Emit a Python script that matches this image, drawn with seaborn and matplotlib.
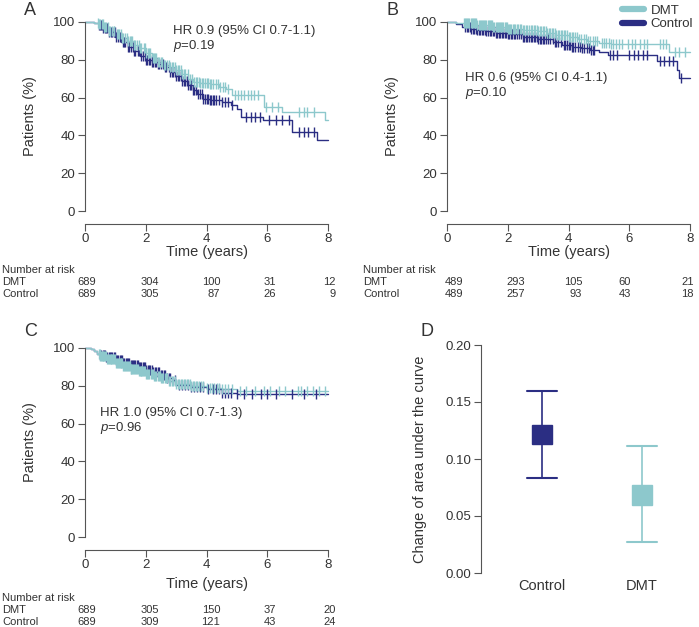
import numpy as np
import matplotlib
matplotlib.use("Agg")
import matplotlib.pyplot as plt
import matplotlib.transforms as mtransforms
from matplotlib.lines import Line2D
import seaborn as sns

# ---------------- data ----------------
# Panel A
A_dmt_t = [0, 0.3, 0.45, 0.6, 0.8, 1.0, 1.2, 1.4, 1.6, 1.8, 2.0, 2.2, 2.4, 2.6, 2.8, 3.0, 3.2, 3.4, 3.55, 3.8, 4.1, 4.4, 4.65, 4.85, 5.88, 6.47, 7.9, 8.0]
A_dmt_s = [100, 99.5, 99, 97.5, 95.5, 93.5, 91.5, 90, 88, 86, 83.5, 81, 79, 77.5, 76, 74.5, 72.5, 70, 68.5, 67.5, 67, 65.5, 64.5, 61.5, 55.2, 52.5, 48, 48]
A_ctl_t = [0, 0.3, 0.45, 0.6, 0.8, 1.0, 1.2, 1.4, 1.6, 1.8, 2.0, 2.2, 2.4, 2.6, 2.8, 3.0, 3.2, 3.4, 3.55, 3.7, 3.9, 4.1, 4.5, 4.8, 5.0, 5.15, 5.85, 6.8, 7.65, 8.0]
A_ctl_s = [100, 99.5, 98.5, 97, 94.5, 92, 89.5, 87, 84.5, 82, 80, 79, 78, 76, 73.5, 71.5, 69, 66.5, 64, 62, 59.5, 58.5, 57.5, 56, 54, 50, 48, 42, 37.5, 37.5]
A_dmt_cens = [0.42, 0.47, 0.5, 0.55, 0.59, 0.62, 0.67, 0.7, 0.76, 0.8, 0.83, 0.9, 0.94, 0.97, 1.05, 1.09, 1.12, 1.18, 1.22, 1.25, 1.33, 1.37, 1.4, 1.47, 1.51, 1.55, 1.62, 1.66, 1.7, 1.78, 1.82, 1.85, 1.93, 1.97, 2.0, 2.08, 2.12, 2.15, 2.23, 2.27, 2.3, 2.35, 2.4, 2.45, 2.5, 2.55, 2.6, 2.65, 2.7, 2.75, 2.8, 2.85, 2.9, 2.95, 3.0, 3.05, 3.1, 3.15, 3.2, 3.25, 3.3, 3.38, 3.45, 3.52, 3.6, 3.65, 3.7, 3.75, 3.8, 3.85, 3.9, 3.95, 4.0, 4.05, 4.1, 4.15, 4.2, 4.3, 4.38, 4.45, 4.55, 4.62, 4.7, 4.95, 5.05, 5.15, 5.25, 5.35, 5.45, 5.55, 5.7, 5.95, 6.15, 6.35, 7.05, 7.2, 7.3, 7.55]
A_ctl_cens = [0.45, 0.5, 0.52, 0.57, 0.6, 0.66, 0.7, 0.74, 0.8, 0.85, 0.88, 0.95, 0.99, 1.02, 1.1, 1.14, 1.17, 1.25, 1.29, 1.32, 1.4, 1.45, 1.5, 1.58, 1.62, 1.66, 1.75, 1.79, 1.83, 1.92, 1.96, 2.0, 2.05, 2.1, 2.15, 2.2, 2.25, 2.3, 2.35, 2.4, 2.45, 2.5, 2.56, 2.62, 2.68, 2.75, 2.8, 2.85, 2.9, 2.95, 3.0, 3.05, 3.1, 3.15, 3.2, 3.25, 3.3, 3.35, 3.4, 3.45, 3.5, 3.55, 3.6, 3.65, 3.72, 3.8, 3.85, 3.9, 3.95, 4.0, 4.05, 4.1, 4.15, 4.2, 4.25, 4.3, 4.4, 4.5, 4.6, 4.7, 4.85, 5.3, 5.45, 5.6, 5.75, 6.05, 6.3, 6.5, 6.7, 7.05, 7.2, 7.35, 7.55]
A_dmt_risk = [689, 304, 100, 31, 12]
A_ctl_risk = [689, 305, 87, 26, 9]

# Panel B
B_dmt_t = [0, 0.3, 0.5, 1.0, 1.5, 2.0, 2.5, 3.0, 3.3, 3.6, 4.0, 4.3, 4.6, 5.0, 5.4, 7.3, 8.0]
B_dmt_s = [100, 99.5, 99.3, 98.2, 97.3, 96.5, 95.8, 95, 94, 93, 92, 91, 90, 88.8, 88.4, 84.3, 84.3]
B_ctl_t = [0, 0.3, 0.5, 0.8, 1.0, 1.3, 1.6, 2.0, 2.5, 3.0, 3.5, 3.8, 4.1, 4.4, 4.7, 5.0, 5.3, 6.9, 7.57, 7.65, 8.0]
B_ctl_s = [100, 99, 97.5, 96.5, 96, 95, 94.3, 93.4, 92, 91, 89.5, 88, 87, 86, 85, 84.3, 82.5, 79.5, 74.6, 70.5, 70.5]
B_dmt_cens = [0.55, 0.6, 0.62, 0.66, 0.7, 0.74, 0.78, 0.82, 0.85, 0.88, 0.92, 0.96, 1.0, 1.04, 1.08, 1.12, 1.15, 1.19, 1.22, 1.26, 1.3, 1.34, 1.38, 1.42, 1.45, 1.49, 1.52, 1.56, 1.6, 1.64, 1.68, 1.72, 1.75, 1.79, 1.82, 1.86, 1.9, 1.94, 1.98, 2.02, 2.05, 2.09, 2.12, 2.16, 2.2, 2.25, 2.3, 2.35, 2.4, 2.45, 2.5, 2.55, 2.6, 2.65, 2.7, 2.75, 2.8, 2.85, 2.9, 2.95, 3.0, 3.05, 3.1, 3.15, 3.2, 3.25, 3.3, 3.35, 3.4, 3.45, 3.5, 3.55, 3.6, 3.65, 3.7, 3.75, 3.8, 3.85, 3.9, 3.95, 4.0, 4.05, 4.1, 4.15, 4.2, 4.28, 4.35, 4.42, 4.5, 4.58, 4.65, 4.72, 4.8, 4.88, 4.95, 5.1, 5.18, 5.25, 5.33, 5.4, 5.48, 5.55, 5.65, 5.75, 5.95, 6.1, 6.2, 6.35, 6.5, 6.6, 7.0, 7.1, 7.2, 7.5, 7.65, 7.85]
B_ctl_cens = [0.6, 0.65, 0.7, 0.75, 0.8, 0.85, 0.9, 0.95, 1.0, 1.05, 1.1, 1.15, 1.2, 1.25, 1.3, 1.35, 1.4, 1.45, 1.5, 1.55, 1.6, 1.65, 1.7, 1.75, 1.8, 1.85, 1.9, 1.95, 2.0, 2.05, 2.1, 2.15, 2.2, 2.25, 2.3, 2.38, 2.45, 2.5, 2.55, 2.6, 2.65, 2.7, 2.75, 2.8, 2.85, 2.9, 2.95, 3.0, 3.05, 3.1, 3.15, 3.2, 3.25, 3.32, 3.4, 3.48, 3.55, 3.6, 3.65, 3.75, 3.85, 3.9, 3.95, 4.0, 4.05, 4.1, 4.15, 4.22, 4.3, 4.38, 4.45, 4.52, 4.6, 4.68, 4.75, 4.8, 4.85, 5.35, 5.45, 5.6, 6.0, 6.15, 6.3, 6.45, 6.6, 7.0, 7.15, 7.3, 7.45, 7.7]
B_dmt_risk = [489, 293, 105, 60, 21]
B_ctl_risk = [489, 257, 93, 43, 18]

# Panel C
C_dmt_t = [0, 0.2, 0.3, 0.4, 0.5, 0.7, 1.0, 1.25, 1.5, 1.75, 2.0, 2.25, 2.5, 2.75, 3.0, 3.5, 4.0, 4.5, 5.0, 6.0, 8.0]
C_dmt_s = [100, 99.5, 98.4, 97, 95.6, 94, 91.8, 90.3, 89, 87.8, 86.5, 85.2, 83.9, 82.5, 81.2, 80, 79, 78.2, 77.4, 77, 77]
C_ctl_t = [0, 0.2, 0.3, 0.4, 0.5, 0.7, 1.0, 1.25, 1.5, 1.75, 2.0, 2.25, 2.5, 2.7, 2.9, 3.0, 3.5, 4.0, 4.5, 5.0, 8.0]
C_ctl_s = [100, 99.5, 98.5, 97, 96.3, 95, 93.5, 92.3, 91, 89.8, 88.6, 87.2, 85.6, 84.2, 83, 80.5, 79.5, 78.2, 76.3, 75.6, 75.6]
C_dmt_cens = [0.45, 0.48, 0.5, 0.53, 0.55, 0.58, 0.6, 0.63, 0.66, 0.69, 0.72, 0.75, 0.78, 0.81, 0.84, 0.87, 0.9, 0.93, 0.96, 0.99, 1.02, 1.05, 1.08, 1.11, 1.14, 1.17, 1.2, 1.23, 1.26, 1.29, 1.32, 1.35, 1.38, 1.41, 1.44, 1.47, 1.5, 1.53, 1.56, 1.59, 1.62, 1.65, 1.68, 1.71, 1.74, 1.77, 1.8, 1.83, 1.86, 1.89, 1.92, 1.95, 1.98, 2.02, 2.05, 2.09, 2.12, 2.16, 2.2, 2.24, 2.28, 2.32, 2.35, 2.39, 2.43, 2.47, 2.5, 2.54, 2.58, 2.62, 2.66, 2.7, 2.75, 2.8, 2.85, 2.9, 2.95, 3.0, 3.05, 3.1, 3.15, 3.2, 3.25, 3.3, 3.35, 3.4, 3.45, 3.5, 3.55, 3.6, 3.65, 3.7, 3.75, 3.82, 3.9, 4.0, 4.1, 4.18, 4.25, 4.35, 4.42, 4.5, 4.6, 4.7, 4.85, 5.1, 5.3, 5.6, 5.9, 6.1, 6.4, 6.6, 7.0, 7.1, 7.3, 7.5, 7.7, 7.9]
C_ctl_cens = [0.5, 0.54, 0.58, 0.62, 0.66, 0.7, 0.74, 0.78, 0.82, 0.86, 0.9, 0.94, 0.98, 1.02, 1.06, 1.1, 1.14, 1.18, 1.22, 1.26, 1.3, 1.34, 1.38, 1.42, 1.46, 1.5, 1.54, 1.58, 1.62, 1.66, 1.7, 1.74, 1.78, 1.82, 1.86, 1.9, 1.94, 1.98, 2.02, 2.06, 2.1, 2.15, 2.2, 2.25, 2.3, 2.35, 2.4, 2.45, 2.5, 2.55, 2.6, 2.65, 2.7, 2.75, 2.8, 2.95, 3.1, 3.2, 3.3, 3.4, 3.5, 3.6, 3.7, 3.8, 3.9, 4.05, 4.2, 4.3, 4.4, 4.5, 4.6, 4.7, 4.8, 5.0, 5.25, 5.5, 5.8, 6.0, 6.3, 6.8, 7.2, 7.6]
C_dmt_risk = [689, 305, 150, 37, 20]
C_ctl_risk = [689, 309, 121, 43, 24]

risk_times = [0, 2, 4, 6, 8]

# Panel D
D_groups = ["Control", "DMT"]
D_q1 = [0.113, 0.060]
D_q3 = [0.130, 0.077]
D_med = [0.1215, 0.0685]
D_lo = [0.083, 0.027]
D_hi = [0.160, 0.111]

# ---------------- style ----------------
DMT_C = "#8DC8CC"
CTL_C = "#2B2E83"
TXT = "#333333"
SPN = "#555555"

sns.set_style("ticks")
plt.rcParams["font.family"] = ["Liberation Sans", "DejaVu Sans"]
plt.rcParams["mathtext.fontset"] = "custom"
plt.rcParams["mathtext.rm"] = "Liberation Sans"
plt.rcParams["mathtext.it"] = "Liberation Sans:italic"
plt.rcParams["text.color"] = TXT
plt.rcParams["axes.labelcolor"] = TXT
plt.rcParams["xtick.color"] = SPN
plt.rcParams["ytick.color"] = SPN
plt.rcParams["xtick.labelcolor"] = TXT
plt.rcParams["ytick.labelcolor"] = TXT
plt.rcParams["axes.edgecolor"] = SPN

W, H = 699, 627
fig = plt.figure(figsize=(W / 100, H / 100), dpi=100)


def fx(px):
    return px / W


def fy(py):
    return 1 - py / H


def step_lookup(ts, ss, c):
    idx = np.searchsorted(np.asarray(ts), np.asarray(c), side="right") - 1
    return np.asarray(ss)[idx]


def km_panel(left_px, y100_px, y0_px, dmt_t, dmt_s, ctl_t, ctl_s, dmt_c, ctl_c,
             hr, p, txt_xy, xlabel_off, risk, risk_y, risk_left_px, risk_off, letter, letter_xy):
    ax = fig.add_axes([fx(left_px), fy(y0_px), 243 / W, (y0_px - y100_px) / H])
    for (tt, ss, cc, col) in [(ctl_t, ctl_s, ctl_c, CTL_C), (dmt_t, dmt_s, dmt_c, DMT_C)]:
        sns.lineplot(x=tt, y=ss, drawstyle="steps-post", estimator=None, sort=False,
                     color=col, linewidth=1.0, ax=ax, clip_on=False)
        cy = step_lookup(tt, ss, cc)
        sns.scatterplot(x=cc, y=cy, marker="|", s=49, color=col, linewidth=1.0,
                        ax=ax, clip_on=False, zorder=3)
    ax.set_xlim(0, 8)
    ax.set_ylim(0, 100)
    ax.set_xticks([0, 2, 4, 6, 8])
    ax.set_yticks([0, 20, 40, 60, 80, 100])
    ax.tick_params(labelsize=9.5, length=5, width=0.8, pad=2)
    ax.spines["top"].set_visible(False)
    ax.spines["right"].set_visible(False)
    ax.spines["bottom"].set_position(("outward", 9))
    ax.spines["bottom"].set_bounds(0, 8)
    ax.spines["left"].set_bounds(0, 100)
    for s in ["left", "bottom"]:
        ax.spines[s].set_linewidth(0.8)
    ax.set_ylabel("Patients (%)", fontsize=10.5)
    ax.yaxis.set_label_coords(-48 / 243, 0.5)
    ax.set_xlabel("Time (years)", fontsize=10.5)
    ax.xaxis.set_label_coords(0.5, -xlabel_off / (y0_px - y100_px))
    ax.text(txt_xy[0], txt_xy[1], hr, fontsize=9.5, va="center", ha="left")
    ax.text(txt_xy[0], txt_xy[1] - 8, p, fontsize=9.5, va="center", ha="left")
    # number at risk
    tr = mtransforms.blended_transform_factory(ax.transData, fig.transFigure)
    fig.text(fx(risk_left_px), fy(risk_y[0]), "Number at risk", fontsize=8, va="center", ha="left")
    fig.text(fx(risk_left_px), fy(risk_y[1]), "DMT", fontsize=8, va="center", ha="left")
    fig.text(fx(risk_left_px), fy(risk_y[2]), "Control", fontsize=8, va="center", ha="left")
    for i, t in enumerate(risk_times):
        ax.text(t + risk_off[i], fy(risk_y[1]), str(risk[0][i]), transform=tr, fontsize=8,
                va="center", ha="right", clip_on=False)
        ax.text(t + risk_off[i], fy(risk_y[2]), str(risk[1][i]), transform=tr, fontsize=8,
                va="center", ha="right", clip_on=False)
    fig.text(fx(letter_xy[0]), fy(letter_xy[1]), letter, fontsize=13, va="top", ha="left")
    return ax


offA = [0.35, 0.45, 0.45, 0.3, 0.25]
offB = [0.52, 0.58, 0.45, 0.05, 0.13]

axA = km_panel(85, 22, 211, A_dmt_t, A_dmt_s, A_ctl_t, A_ctl_s, A_dmt_cens, A_ctl_cens,
               "HR 0.9 (95% CI 0.7-1.1)", r"$\it{p}$=0.19", (2.9, 95.5), 34,
               (A_dmt_risk, A_ctl_risk), (270, 282, 294), 2, offA, "A", (24, 2))
axB = km_panel(447, 22, 211, B_dmt_t, B_dmt_s, B_ctl_t, B_ctl_s, B_dmt_cens, B_ctl_cens,
               "HR 0.6 (95% CI 0.4-1.1)", r"$\it{p}$=0.10", (0.6, 70.5), 34,
               (B_dmt_risk, B_ctl_risk), (270, 282, 294), 363, offB, "B", (386, 2))
axC = km_panel(85, 348, 537, C_dmt_t, C_dmt_s, C_ctl_t, C_ctl_s, C_dmt_cens, C_ctl_cens,
               "HR 1.0 (95% CI 0.7-1.3)", r"$\it{p}$=0.96", (0.5, 65.5), 40,
               (C_dmt_risk, C_ctl_risk), (598, 610, 622), 2, offA, "C", (24, 323))

handles = [Line2D([0], [0], color=DMT_C, lw=4.5), Line2D([0], [0], color=CTL_C, lw=4.5)]
axB.legend(handles, ["DMT", "Control"], loc="upper right", bbox_to_anchor=(1.035, 1.12),
           frameon=False, fontsize=9.5, handlelength=1.7, handletextpad=0.5,
           labelspacing=0.1, borderaxespad=0)

# Panel D
axD = fig.add_axes([fx(481), fy(573), 211 / W, (573 - 345) / H])
stats = []
for i, g in enumerate(D_groups):
    stats.append(dict(label=g, med=D_med[i], q1=D_q1[i], q3=D_q3[i],
                      whislo=D_lo[i], whishi=D_hi[i], fliers=[]))
cols = [CTL_C, DMT_C]
for i in range(2):
    axD.bxp([stats[i]], positions=[i], widths=0.2, capwidths=0.3, patch_artist=True,
            showfliers=False,
            boxprops=dict(facecolor=cols[i], edgecolor=cols[i], linewidth=1),
            whiskerprops=dict(color=cols[i], linewidth=1.2),
            capprops=dict(color=cols[i], linewidth=1.5),
            medianprops=dict(color=cols[i], linewidth=0))
axD.set_xlim(-0.61, 1.5)
axD.set_ylim(0, 0.2)
axD.set_yticks([0, 0.05, 0.1, 0.15, 0.2])
axD.set_yticklabels(["0.00", "0.05", "0.10", "0.15", "0.20"])
axD.set_xticks([0, 1])
axD.set_xticklabels(D_groups)
axD.tick_params(axis="y", labelsize=9.5, length=5, width=0.8, pad=2)
axD.tick_params(axis="x", labelsize=10.5, length=0, pad=4)
for s in ["top", "right", "bottom"]:
    axD.spines[s].set_visible(False)
axD.spines["left"].set_linewidth(0.8)
axD.set_ylabel("Change of area under the curve", fontsize=10.5)
axD.yaxis.set_label_coords(-54 / 211, 0.5)
fig.text(fx(421), fy(323), "D", fontsize=13, va="top", ha="left")

fig.savefig("out.png", dpi=100)
